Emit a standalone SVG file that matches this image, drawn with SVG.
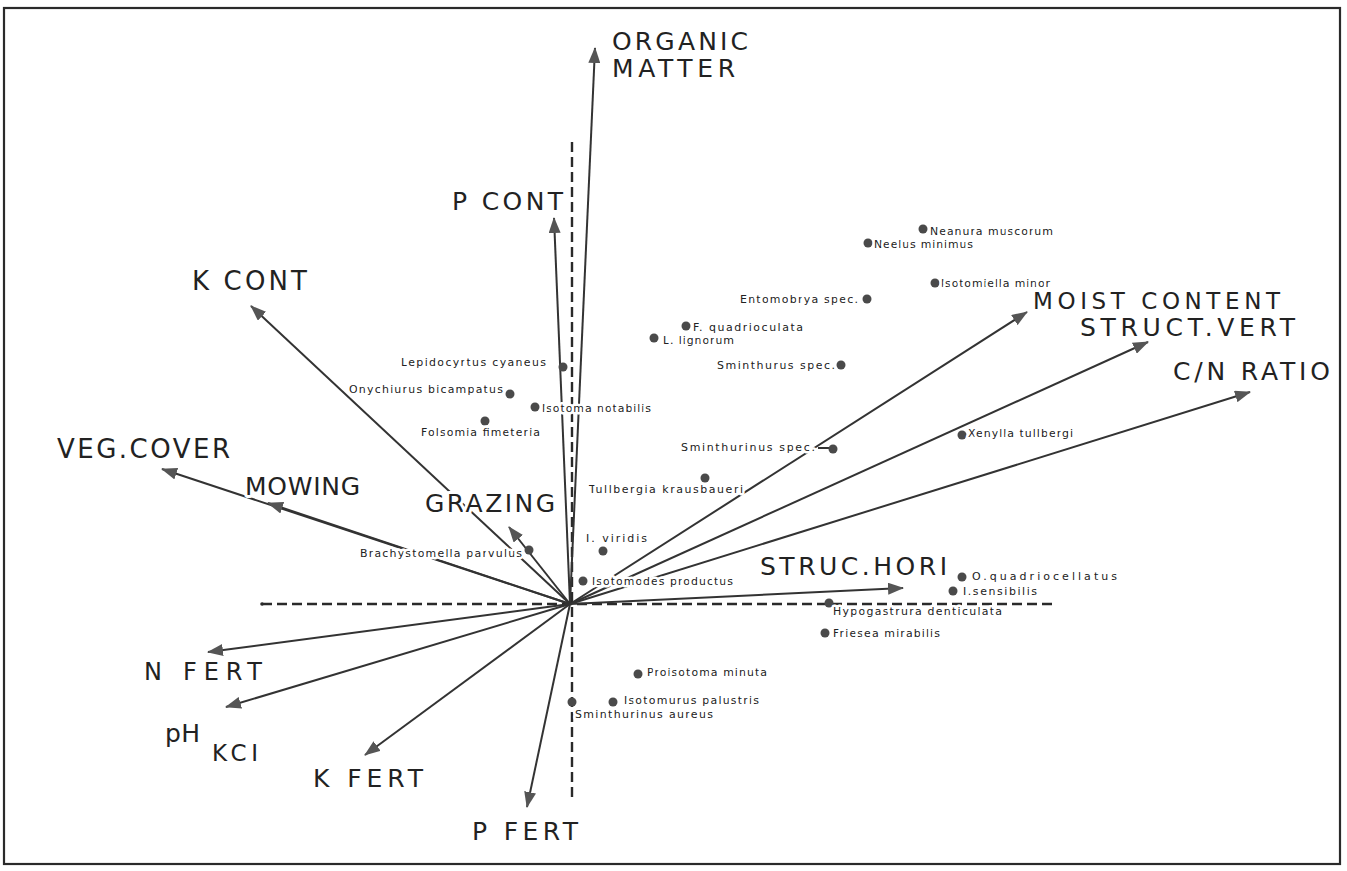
<svg xmlns="http://www.w3.org/2000/svg" width="1347" height="871" viewBox="0 0 1347 871">
<style>
  .frame{fill:none;stroke:#2a2a2a;stroke-width:2.2}
  .axis{fill:none;stroke:#2a2a2a;stroke-width:2.4;stroke-dasharray:10 5}
  .vec{fill:none;stroke:#333;stroke-width:2;marker-end:url(#ah)}
  .vecn{fill:none;stroke:#333;stroke-width:2}
  .dot{fill:#4a4a4a}
  .big{font-family:"DejaVu Sans","Liberation Sans",sans-serif;fill:#222;stroke:#fff;stroke-width:6;paint-order:stroke;stroke-linejoin:round}
  .sp{font-family:"DejaVu Sans","Liberation Sans",sans-serif;font-size:11px;fill:#222;stroke:#fff;stroke-width:5;paint-order:stroke;stroke-linejoin:round}
</style>
<defs>
  <marker id="ah" viewBox="0 0 16 12" refX="15" refY="6" markerWidth="16" markerHeight="12" orient="auto" markerUnits="userSpaceOnUse">
    <path d="M0,0 L16,6 L0,12 z" fill="#555"/>
  </marker>
</defs>
<rect width="1347" height="871" fill="#fff"/>
<rect class="frame" x="4" y="8" width="1336" height="856"/>

<g id="connectors">
  <line class="axis" x1="262" y1="604" x2="1057" y2="604"/>
  <circle cx="262" cy="604" r="1.8" fill="#2a2a2a"/>
  <line class="axis" x1="572" y1="142" x2="572" y2="797" stroke-dasharray="9 5"/>
  <line class="vec" x1="570" y1="604" x2="595" y2="48"/>
  <line class="vec" x1="570" y1="604" x2="554" y2="218"/>
  <line class="vec" x1="570" y1="604" x2="251" y2="306"/>
  <line class="vec" x1="570" y1="604" x2="162" y2="469"/>
  <line class="vec" x1="570" y1="604" x2="268" y2="503"/>
  <line class="vec" x1="570" y1="604" x2="509" y2="527"/>
  <line class="vec" x1="570" y1="604" x2="1027" y2="312"/>
  <line class="vec" x1="570" y1="604" x2="1148" y2="342"/>
  <line class="vec" x1="570" y1="604" x2="1250" y2="392"/>
  <line class="vec" x1="570" y1="604" x2="903" y2="588"/>
  <line class="vec" x1="570" y1="604" x2="208" y2="652"/>
  <line class="vec" x1="570" y1="604" x2="226" y2="707"/>
  <line class="vec" x1="570" y1="604" x2="365" y2="755"/>
  <line class="vec" x1="570" y1="604" x2="527" y2="807"/>
  <line class="vecn" x1="818" y1="448" x2="829" y2="448"/>
</g>

<g id="var-organic-matter"><text class="big" x="612" y="50" font-size="25" textLength="136" lengthAdjust="spacing">ORGANIC</text><text class="big" x="612" y="77" font-size="25" textLength="123" lengthAdjust="spacing">MATTER</text></g>
<g id="var-p-cont"><text class="big" x="452" y="210" font-size="25" textLength="111" lengthAdjust="spacing">P CONT</text></g>
<g id="var-k-cont"><text class="big" x="192" y="290" font-size="26" textLength="115" lengthAdjust="spacing">K CONT</text></g>
<g id="var-veg-cover"><text class="big" x="57" y="458" font-size="26" textLength="173" lengthAdjust="spacing">VEG.COVER</text></g>
<g id="var-mowing"><text class="big" x="245" y="495" font-size="25" textLength="115" lengthAdjust="spacing">MOWING</text></g>
<g id="var-grazing"><text class="big" x="425" y="512" font-size="25" textLength="130" lengthAdjust="spacing">GRAZING</text></g>
<g id="var-moist-content"><text class="big" x="1033" y="309" font-size="23" textLength="247" lengthAdjust="spacing">MOIST CONTENT</text></g>
<g id="var-struct-vert"><text class="big" x="1080" y="336" font-size="25" textLength="215" lengthAdjust="spacing">STRUCT.VERT</text></g>
<g id="var-cn-ratio"><text class="big" x="1173" y="380" font-size="25" textLength="157" lengthAdjust="spacing">C/N RATIO</text></g>
<g id="var-struc-hori"><text class="big" x="760" y="575" font-size="25" textLength="187" lengthAdjust="spacing">STRUC.HORI</text></g>
<g id="var-n-fert"><text class="big" x="144" y="680" font-size="24" textLength="118" lengthAdjust="spacing">N FERT</text></g>
<g id="var-ph-kcl"><text class="big" x="165" y="742" font-size="25" textLength="35" lengthAdjust="spacing">pH</text><text class="big" x="212" y="761" font-size="23" textLength="46" lengthAdjust="spacing">KCI</text></g>
<g id="var-k-fert"><text class="big" x="313" y="787" font-size="25" textLength="110" lengthAdjust="spacing">K FERT</text></g>
<g id="var-p-fert"><text class="big" x="472" y="840" font-size="25" textLength="106" lengthAdjust="spacing">P FERT</text></g>

<g id="sp-lepidocyrtus"><circle class="dot" cx="563" cy="367" r="4.5"/><text class="sp" x="401" y="366" textLength="145">Lepidocyrtus cyaneus</text></g>
<g id="sp-onychiurus"><circle class="dot" cx="510" cy="394" r="4.5"/><text class="sp" x="349" y="393" textLength="154">Onychiurus bicampatus</text></g>
<g id="sp-isotoma-notabilis"><circle class="dot" cx="535" cy="407" r="4.5"/><text class="sp" x="542" y="412" textLength="109">Isotoma notabilis</text></g>
<g id="sp-folsomia"><circle class="dot" cx="485" cy="421" r="4.5"/><text class="sp" x="421" y="436" textLength="119">Folsomia fimeteria</text></g>
<g id="sp-tullbergia"><circle class="dot" cx="705" cy="478" r="4.5"/><text class="sp" x="589" y="493" textLength="154">Tullbergia krausbaueri</text></g>
<g id="sp-i-viridis"><circle class="dot" cx="603" cy="551" r="4.5"/><text class="sp" x="586" y="542" textLength="61">I. viridis</text></g>
<g id="sp-brachystomella"><circle class="dot" cx="529" cy="550" r="4.5"/><text class="sp" x="360" y="557" textLength="162">Brachystomella parvulus</text></g>
<g id="sp-isotomodes"><circle class="dot" cx="583" cy="581" r="4.5"/><text class="sp" x="592" y="585" textLength="141">Isotomodes productus</text></g>
<g id="sp-neanura"><circle class="dot" cx="923" cy="229" r="4.5"/><text class="sp" x="930" y="235" textLength="123">Neanura muscorum</text></g>
<g id="sp-neelus"><circle class="dot" cx="868" cy="243" r="4.5"/><text class="sp" x="874" y="248" textLength="99">Neelus minimus</text></g>
<g id="sp-isotomiella"><circle class="dot" cx="935" cy="283" r="4.5"/><text class="sp" x="941" y="287" textLength="109">Isotomiella minor</text></g>
<g id="sp-entomobrya"><circle class="dot" cx="867" cy="299" r="4.5"/><text class="sp" x="740" y="303" textLength="118">Entomobrya spec.</text></g>
<g id="sp-f-quadrioculata"><circle class="dot" cx="686" cy="326" r="4.5"/><text class="sp" x="693" y="331" textLength="110">F. quadrioculata</text></g>
<g id="sp-l-lignorum"><circle class="dot" cx="654" cy="338" r="4.5"/><text class="sp" x="663" y="344" textLength="71">L. lignorum</text></g>
<g id="sp-sminthurus"><circle class="dot" cx="841" cy="365" r="4.5"/><text class="sp" x="717" y="369" textLength="118">Sminthurus spec.</text></g>
<g id="sp-sminthurinus-spec"><circle class="dot" cx="833" cy="449" r="4.5"/><text class="sp" x="681" y="451" textLength="134">Sminthurinus spec.</text></g>
<g id="sp-xenylla"><circle class="dot" cx="962" cy="435" r="4.5"/><text class="sp" x="968" y="437" textLength="105">Xenylla tullbergi</text></g>
<g id="sp-o-quadriocellatus"><circle class="dot" cx="962" cy="577" r="4.5"/><text class="sp" x="972" y="580" textLength="145">O.quadriocellatus</text></g>
<g id="sp-i-sensibilis"><circle class="dot" cx="953" cy="591" r="4.5"/><text class="sp" x="963" y="595" textLength="74">I.sensibilis</text></g>
<g id="sp-hypogastrura"><circle class="dot" cx="829" cy="603" r="4.5"/><text class="sp" x="833" y="615" textLength="169">Hypogastrura denticulata</text></g>
<g id="sp-friesea"><circle class="dot" cx="825" cy="633" r="4.5"/><text class="sp" x="833" y="637" textLength="107">Friesea mirabilis</text></g>
<g id="sp-proisotoma"><circle class="dot" cx="638" cy="674" r="4.5"/><text class="sp" x="647" y="676" textLength="120">Proisotoma minuta</text></g>
<g id="sp-isotomurus"><circle class="dot" cx="613" cy="702" r="4.5"/><text class="sp" x="624" y="704" textLength="135">Isotomurus palustris</text></g>
<g id="sp-sminthurinus-aureus"><circle class="dot" cx="572" cy="702" r="4.5"/><text class="sp" x="575" y="718" textLength="138">Sminthurinus aureus</text></g>
</svg>
